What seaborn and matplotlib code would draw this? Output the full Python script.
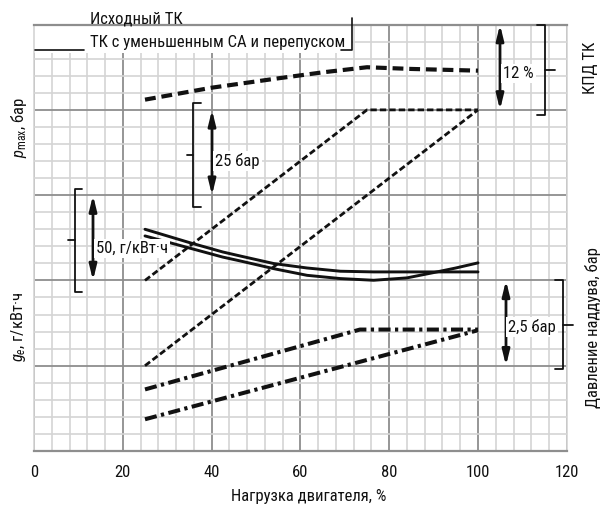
import numpy as np
import matplotlib
matplotlib.use("Agg")
import matplotlib.pyplot as plt
import seaborn as sns
import matplotlib.font_manager as fm
from matplotlib.patches import Rectangle

# ---------------- data (y in grid cells, 5 cells per major division) ----------------
load_eff = [25, 40, 55, 65, 75, 85, 100]
eff_tc = [20.6, 21.3, 21.85, 22.2, 22.5, 22.4, 22.3]

load_pmax_a = [25, 75, 100]
pmax_a = [10.0, 20.0, 20.0]
load_pmax_b = [25, 100]
pmax_b = [5.0, 20.0]

load_ge_a = [25, 35, 42.5, 46.5, 54, 61.5, 69, 76.5, 100]
ge_a = [13.0, 12.22, 11.67, 11.43, 10.99, 10.73, 10.54, 10.50, 10.50]
load_ge_b = [25, 35, 42.5, 46.5, 54, 61.5, 69, 76.5, 84, 90, 95, 100]
ge_b = [12.61, 11.90, 11.37, 11.14, 10.69, 10.30, 10.11, 10.01, 10.15, 10.46, 10.73, 11.03]

load_boost_a = [25, 73.4, 100]
boost_a = [3.61, 7.12, 7.12]
load_boost_b = [25, 100]
boost_b = [1.86, 7.08]

x_ticks = [0, 20, 40, 60, 80, 100, 120]
x_tick_labels = ["0", "20", "40", "60", "80", "100", "120"]

legend_labels = ["Исходный ТК", "ТК с уменьшенным СА и перепуском"]
scale_labels = ["12 %", "25 бар", "50, г/кВт·ч", "2,5 бар"]

# ---------------- style ----------------
sns.set_style("white")
avail = {f.name for f in fm.fontManager.ttflist}
FONT = "Liberation Sans"
for cand in ["Liberation Sans Narrow", "Roboto Condensed", "Open Sans Condensed", "Liberation Sans"]:
    if cand in avail:
        FONT = cand
        break
plt.rcParams["font.family"] = [FONT, "DejaVu Sans"]
plt.rcParams["mathtext.fontset"] = "custom"
plt.rcParams["mathtext.rm"] = FONT
plt.rcParams["mathtext.it"] = FONT + ":italic"

W, H = 601, 509
X0, XS = 34.0, 4.44      # pixel of x=0, px per %
Y0, YS = 451.0, 17.056   # pixel of y=0, px per grid cell

def px2x(px):
    return (px - X0) / XS

def py2y(py):
    return (Y0 - py) / YS

fig = plt.figure(figsize=(W / 100, H / 100), dpi=100)
ax = fig.add_axes([X0 / W, (H - Y0) / H, 120 * XS / W, 25 * YS / H])
ax.set_xlim(0, 120)
ax.set_ylim(0, 25)

ax.set_xticks(x_ticks)
ax.set_xticklabels(x_tick_labels, fontsize=12)
ax.set_xticks(np.arange(0, 121, 4), minor=True)
ax.set_yticks(np.arange(0, 26, 5))
ax.set_yticks(np.arange(0, 26, 1), minor=True)
ax.set_yticklabels([])
ax.tick_params(which="both", length=0)
ax.tick_params(axis="x", pad=10, colors="#111111")
ax.set_axisbelow(True)
ax.grid(which="minor", color="#d4d4d4", lw=1.2)
ax.grid(which="major", color="#8e8e8e", lw=1.3)
for s in ["left", "right"]:
    ax.spines[s].set_color("#d4d4d4")
    ax.spines[s].set_linewidth(1.2)
for s in ["top", "bottom"]:
    ax.spines[s].set_color("#8e8e8e")
    ax.spines[s].set_linewidth(1.6)

INK = "#111111"

def draw(xs, ys, lw, dashes=None):
    sns.lineplot(x=xs, y=ys, ax=ax, color=INK, linewidth=lw, estimator=None, sort=False)
    ln = ax.lines[-1]
    if dashes is not None:
        ln.set_dashes(dashes)
    ln.set_dash_capstyle("butt")
    ln.set_zorder(3)
    return ln

draw(load_eff, eff_tc, 3.0, (2.6, 1.4))
draw(load_pmax_a, pmax_a, 2.0, (2.3, 1.1))
draw(load_pmax_b, pmax_b, 2.0, (2.3, 1.1))
draw(load_ge_a, ge_a, 2.1)
draw(load_ge_b, ge_b, 2.1)
draw(load_boost_a, boost_a, 2.9, (3.0, 1.1, 0.8, 1.1))
draw(load_boost_b, boost_b, 2.9, (3.0, 1.1, 0.8, 1.1))

# ---------------- legend block ----------------
ax.add_patch(Rectangle((0, py2y(53)), px2x(352), 25 - py2y(53) + 2, facecolor="white",
                       edgecolor="none", zorder=1.5, clip_on=False))
ax.text(px2x(90), py2y(19), legend_labels[0], fontsize=12, ha="left", va="center",
        color=INK, clip_on=False, zorder=4)
ax.text(px2x(90), py2y(43), legend_labels[1], fontsize=12, ha="left", va="center",
        color=INK, clip_on=False, zorder=4)
ax.plot([px2x(35), px2x(84)], [py2y(50), py2y(50)], color=INK, lw=1.2, clip_on=False, zorder=4)
ax.plot([px2x(352), px2x(352), px2x(341)],
        [py2y(18), py2y(50), py2y(50)], color=INK, lw=1.2, clip_on=False, zorder=4)

# ---------------- scale arrows, labels and braces ----------------
def arrow(xpx, y_top, y_bot):
    ax.annotate("", xy=(px2x(xpx), y_top), xytext=(px2x(xpx), y_bot),
                arrowprops=dict(arrowstyle="<|-|>,head_length=0.9,head_width=0.22",
                                color=INK, lw=2.0, shrinkA=0, shrinkB=0),
                zorder=5, annotation_clip=False)

def label(xpx, ypx, s):
    ax.text(px2x(xpx), py2y(ypx), s, fontsize=12, ha="left", va="center", color=INK,
            zorder=6, bbox=dict(facecolor="white", edgecolor="none", pad=1.5))

def brace(xpx, top_px, bot_px, hook_px, mid_px, tick_px):
    xs = [px2x(hook_px), px2x(xpx), px2x(xpx), px2x(hook_px)]
    ys = [py2y(top_px), py2y(top_px), py2y(bot_px), py2y(bot_px)]
    ax.plot(xs, ys, color=INK, lw=1.3, clip_on=False, zorder=5)
    ax.plot([px2x(xpx), px2x(tick_px)], [py2y(mid_px), py2y(mid_px)], color=INK, lw=1.3,
            clip_on=False, zorder=5)

# 12 %
arrow(500, 25.0, 20.0)
label(503, 73, scale_labels[0])
brace(545, 25, 115, 537, 70, 555)
# 25 bar
arrow(212, 20.0, 15.0)
label(215, 161, scale_labels[1])
brace(193, 103, 207, 201, 155, 187)
# 50 g/kWh
arrow(93, 15.0, 10.0)
label(96, 248, scale_labels[2])
brace(75, 189, 292, 82, 240, 68)
# 2,5 bar
arrow(506, 10.0, 5.0)
label(508, 327, scale_labels[3])
brace(563, 280, 369, 555, 325, 573)

# ---------------- axis titles ----------------
fig.text(309 / W, 1 - 497 / H, "Нагрузка двигателя, %", fontsize=12, ha="center", va="center", color=INK)
fig.text(19 / W, 1 - 128 / H, r"$\it{p}_{\rm{max}}$, бар", fontsize=12, rotation=90,
         ha="center", va="center", color=INK)
fig.text(18 / W, 1 - 327 / H, r"$\it{g}_{e}$, г/кВт·ч", fontsize=12, rotation=90,
         ha="center", va="center", color=INK)
fig.text(590 / W, 1 - 68 / H, "КПД ТК", fontsize=12, rotation=90, ha="center", va="center", color=INK)
fig.text(593 / W, 1 - 328 / H, "Давление наддува, бар", fontsize=12, rotation=90,
         ha="center", va="center", color=INK)

fig.savefig("out.png", dpi=100)
